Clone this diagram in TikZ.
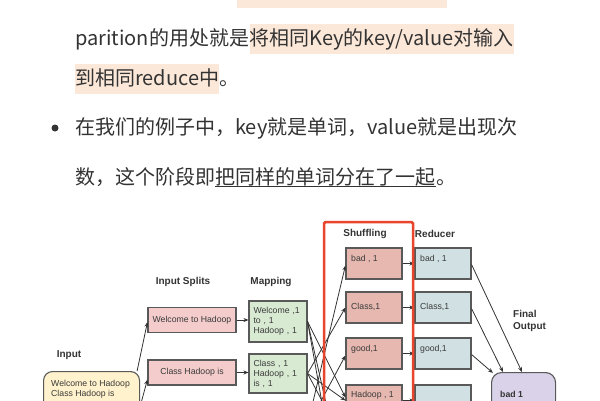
\documentclass[tikz,border=0pt]{standalone}
\usepackage{fontspec}
\setmainfont{Liberation Sans}
\newfontfamily\cjk{Noto Sans CJK SC}
\usetikzlibrary{arrows.meta,calc}
\definecolor{txt}{HTML}{333333}
\definecolor{boxtxt}{HTML}{3A3A3A}
\definecolor{hl}{HTML}{FCE8D8}
\definecolor{splitc}{HTML}{F4CCCC}
\definecolor{mapc}{HTML}{D9EAD3}
\definecolor{shufc}{HTML}{E6B8AF}
\definecolor{redc}{HTML}{D0E0E3}
\definecolor{finc}{HTML}{D9D2E9}
\definecolor{inc}{HTML}{FFF2CC}
\definecolor{bord}{HTML}{595959}
\definecolor{redline}{HTML}{E8452C}
\begin{document}
\begin{tikzpicture}[x=1pt,y=-1pt,
  cjkt/.style={font=\cjk\fontsize{20}{24}\selectfont, text=txt, inner sep=0pt, anchor=base west},
  hlbox/.style={fill=hl, text height=21pt, text depth=9pt},
  lbl/.style={font=\fontsize{8.7}{10}\selectfont, text=boxtxt, inner sep=0pt},
  head/.style={font=\bfseries\fontsize{10}{12}\selectfont, text=txt, inner sep=0pt, align=left},
  box/.style={draw=bord, line width=1.1pt, inner sep=0pt, font=\fontsize{8.7}{10}\selectfont, text=boxtxt},
  splitbox/.style={box, fill=splitc, minimum width=88pt, minimum height=25pt},
  mapbox/.style={box, fill=mapc, minimum width=58pt, text width=49pt, inner xsep=4.5pt, align=left},
  shufbox/.style={box, fill=shufc, minimum width=56pt, minimum height=31pt},
  redbox/.style={box, fill=redc, minimum width=56pt, minimum height=31pt},
  arr/.style={draw=txt, line width=0.8pt, -{Stealth[length=5pt,width=4pt]}},
]
\useasboundingbox (0,0) rectangle (600,400);
\fill[white] (0,0) rectangle (600,400);
\clip (0,0) rectangle (600,400);

% --- text part ---
\fill[hl] (237,-2) rectangle (447,8);
\node[cjkt] (l2a) at (75,45) {parition的用处就是};
\node[cjkt, hlbox] (l2b) at (l2a.base east) {将相同Key的key/value对输入};
\node[cjkt, hlbox] (l3a) at (75,85) {到相同reduce中};
\node[cjkt] (l3b) at (l3a.base east) {。};
\fill[txt] (55,128) circle (3.5);
\node[cjkt] (l4) at (75,134) {在我们的例子中，key就是单词，value就是出现次};
\node[cjkt] (l5a) at (75,184) {数，这个阶段即};
\node[cjkt] (l5b) at (l5a.base east) {把同样的单词分在了一起};
\node[cjkt] (l5c) at (l5b.base east) {。};
\draw[txt, line width=0.9pt] ([yshift=-2pt]l5b.base west) -- ([yshift=-2pt]l5b.base east);

% --- headings ---
\node[head] (hsplit) at (183,282) {Input Splits};
\node[head] (hmap) at (271,282) {Mapping};
\node[head] (hin) at (69,355) {Input};
\node[head] (hshuf) at (365,234) {Shuffling};
\node[head] (hred) at (435,234) {Reducer};
\node[head, anchor=west] (hfin) at (513,321) {Final\\Output};

% --- input ---
\node[box, fill=inc, rounded corners=9pt, anchor=north west, minimum width=96pt, minimum height=70pt] (in) at (43,371) {};
\node[lbl, anchor=west] (in1) at (51,384) {Welcome to Hadoop};
\node[lbl, anchor=west] (in2) at (51,394) {Class Hadoop is};

% --- splits ---
\node[splitbox] (s1) at (192,320) {Welcome to Hadoop};
\node[splitbox] (s2) at (192,372.5) {Class Hadoop is};

% --- mapping ---
\node[mapbox, minimum height=41pt] (m1) at (278,321.5) {Welcome ,1\\to , 1\\Hadoop , 1};
\node[mapbox, minimum height=39pt] (m2) at (278,373.5) {Class , 1\\Hadoop , 1\\is , 1};
\coordinate (m3) at (307,427);

% --- shuffling ---
\node[shufbox] (sh1) at (374,263.5) {};
\node[shufbox] (sh2) at (374,307.5) {};
\node[shufbox] (sh3) at (374,353.5) {};
\node[shufbox] (sh4) at (374,400.5) {};
\node[lbl, anchor=west] (sh1t) at (351,259) {bad , 1};
\node[lbl, anchor=west] (sh2t) at (351,307) {Class,1};
\node[lbl, anchor=west] (sh3t) at (351,349) {good,1};
\node[lbl, anchor=west] (sh4t) at (351,395) {Hadoop , 1};
\coordinate (sh5) at (346,446);
\coordinate (sh6) at (346,492);
\coordinate (sh7) at (346,538);

% --- reducer ---
\node[redbox] (r1) at (443,263.5) {};
\node[redbox] (r2) at (443,307.5) {};
\node[redbox] (r3) at (443,353.5) {};
\node[redbox] (r4) at (443,400.5) {};
\node[lbl, anchor=west] (r1t) at (420,259) {bad , 1};
\node[lbl, anchor=west] (r2t) at (420,307) {Class,1};
\node[lbl, anchor=west] (r3t) at (420,349) {good,1};

% --- final ---
\node[box, fill=finc, rounded corners=10pt, anchor=north west, minimum width=64pt, minimum height=80pt] (f) at (491,372) {};
\node[lbl, font=\bfseries\fontsize{8.7}{10}\selectfont, anchor=west, text=txt] (f1) at (500,394) {bad 1};
\coordinate (fa) at (522,372);
\coordinate (fb) at (503,372);
\coordinate (fc) at (493,373);

% --- connectors ---
\draw[arr] ([xshift=-3pt]in.north east) -- ($(s1.west)+(0,2)$);
\draw[arr] (in.east) -- ($(s2.west)+(0,7)$);
\draw[arr] (s1.east) -- (s1.east -| m1.west);
\draw[arr] (s2.east) -- (s2.east -| m2.west);

\draw[arr] (m1.east) -- ($(sh4.west)+(0,-3)$);
\draw[arr] (m1.east) -- (sh6);
\draw[arr] (m1.east) -- (sh7);
\draw[arr] (m2.east) -- (sh2.west);
\draw[arr] (m2.east) -- (sh4.west);
\draw[arr] (m2.east) -- (sh5);
\draw[arr] (m3) -- ($(sh1.west)+(0,2)$);
\draw[arr] (m3) -- ($(sh3.west)+(0,2)$);
\draw[arr] (m3) -- ($(sh4.west)+(0,3)$);
\draw[arr] (m3) -- (sh5);

\draw[arr] (sh1.east) -- (r1.west);
\draw[arr] (sh2.east) -- (r2.west);
\draw[arr] (sh3.east) -- (r3.west);
\draw[arr] (sh4.east) -- (r4.west);

\draw[arr] ($(r1.east)+(0,1)$) -- (fa);
\draw[arr] ($(r2.east)+(0,1)$) -- (fb);
\draw[arr] ($(r3.east)+(0,1)$) -- (fc);

% --- red hand-drawn frame ---
\draw[redline, line width=2.5pt, rounded corners=1.5pt] (324,222) rectangle (413,430);
\end{tikzpicture}
\end{document}
